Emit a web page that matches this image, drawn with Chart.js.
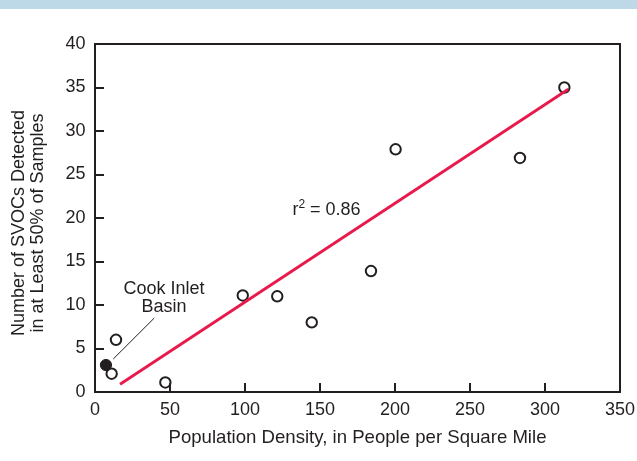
<!DOCTYPE html>
<html><head><meta charset="utf-8">
<script src="https://cdn.jsdelivr.net/npm/chart.js@4/dist/chart.umd.min.js"></script>
<style>html,body{margin:0;padding:0;background:#fff;}#wrap{position:relative;width:637px;height:461px;}</style>
</head><body><div id="wrap"><canvas id="c" width="637" height="461"></canvas></div>
<script>
// Data
const siteDensity = [11.1, 14.0, 46.9, 98.5, 121.5, 144.5, 184.0, 200.4, 283.3, 312.9];
const siteSvocs   = [2.1, 6.0, 1.1, 11.1, 11.0, 8.0, 13.9, 27.9, 26.9, 35.0];
const cookDensity = [7.3];
const cookSvocs   = [3.1];
const fitDensity  = [16.7, 315.5];
const fitSvocs    = [0.89, 34.8];
const xTickValues = [0, 50, 100, 150, 200, 250, 300, 350];
const yTickValues = [0, 5, 10, 15, 20, 25, 30, 35, 40];
const xTitle = 'Population Density, in People per Square Mile';
const yTitle = ['Number of SVOCs Detected  ', 'in at Least 50% of Samples  '];
const cookLabel = ['Cook Inlet', 'Basin'];
const r2Text = '0.86';

// annotation anchors (data units)
const cookLabelAt = {x: 46, y1: 11.3, y2: 9.2};
const leader = [{x: 12.2, y: 3.8}, {x: 39.5, y: 8.5}];
const r2At = {x: 131.6, y: 20.35};

const FONT = "'Liberation Sans', Arial, Helvetica, sans-serif";
const INK = '#231f20';
const RED = '#e8194b';

const toPts = (xs, ys) => xs.map((x, i) => ({x, y: ys[i]}));

const deco = {
  id: 'deco',
  beforeDraw(chart) {
    const ctx = chart.ctx;
    ctx.save();
    ctx.fillStyle = '#fff';
    ctx.fillRect(0, 0, chart.width, chart.height);
    ctx.fillStyle = '#bdd9e8';
    ctx.fillRect(0, 0, chart.width, 9);
    ctx.restore();
  },
  afterDraw(chart) {
    const ctx = chart.ctx, a = chart.chartArea;
    const xs = chart.scales.x, ys = chart.scales.y;
    ctx.save();
    ctx.strokeStyle = INK;
    ctx.lineWidth = 2;
    ctx.beginPath();
    ctx.moveTo(a.left - 1, a.top); ctx.lineTo(a.right, a.top); ctx.lineTo(a.right, a.bottom + 1);
    xTickValues.slice(1, -1).forEach(v => {
      const px = Math.round(xs.getPixelForValue(v));
      ctx.moveTo(px, a.bottom); ctx.lineTo(px, a.bottom - 9);
    });
    yTickValues.slice(1, -1).forEach(v => {
      const py = Math.round(ys.getPixelForValue(v));
      ctx.moveTo(a.left, py); ctx.lineTo(a.left + 9, py);
    });
    ctx.stroke();

    // leader line
    ctx.lineWidth = 1;
    ctx.beginPath();
    ctx.moveTo(xs.getPixelForValue(leader[0].x), ys.getPixelForValue(leader[0].y));
    ctx.lineTo(xs.getPixelForValue(leader[1].x), ys.getPixelForValue(leader[1].y));
    ctx.stroke();

    ctx.fillStyle = INK;
    ctx.font = '18px ' + FONT;
    ctx.textAlign = 'center';
    ctx.textBaseline = 'alphabetic';
    const cx = xs.getPixelForValue(cookLabelAt.x);
    ctx.fillText(cookLabel[0], cx, ys.getPixelForValue(cookLabelAt.y1));
    ctx.fillText(cookLabel[1], cx, ys.getPixelForValue(cookLabelAt.y2));

    // r^2 label
    ctx.textAlign = 'left';
    let rx = xs.getPixelForValue(r2At.x);
    const ry = ys.getPixelForValue(r2At.y);
    ctx.fillText('r', rx, ry);
    rx += ctx.measureText('r').width;
    ctx.font = '12px ' + FONT;
    ctx.fillText('2', rx, ry - 7);
    rx += ctx.measureText('2').width;
    ctx.font = '18px ' + FONT;
    ctx.fillText(' = ' + r2Text, rx, ry);
    ctx.restore();
  }
};

new Chart(document.getElementById('c'), {
  type: 'scatter',
  data: {
    datasets: [
      {label: 'fit', data: toPts(fitDensity, fitSvocs), showLine: true, pointRadius: 0,
       borderColor: RED, borderWidth: 2.8, fill: false},
      {label: 'Cook Inlet Basin', data: toPts(cookDensity, cookSvocs), pointRadius: 5.6,
       backgroundColor: INK, borderColor: INK, borderWidth: 1},
      {label: 'sites', data: toPts(siteDensity, siteSvocs), pointRadius: 5.2,
       backgroundColor: '#fff', borderColor: INK, borderWidth: 2}
    ]
  },
  options: {
    responsive: false,
    devicePixelRatio: 1,
    animation: false,
    layout: {padding: {top: 44, right: 17, left: 0, bottom: 0}},
    plugins: {legend: {display: false}, tooltip: {enabled: false}},
    scales: {
      x: {
        type: 'linear', min: 0, max: 350,
        afterBuildTicks: s => { s.ticks = xTickValues.map(v => ({value: v})); },
        afterFit: s => { s.height = 69; s.paddingLeft = 0; s.paddingRight = 0; },
        ticks: {font: {size: 18, family: FONT}, color: INK, padding: 7.5, maxRotation: 0},
        grid: {display: false, drawTicks: false},
        border: {display: true, color: INK, width: 2},
        title: {display: true, text: xTitle, color: INK,
                font: {size: 18.6, family: FONT, lineHeight: 1.05}, padding: {top: 0, bottom: 13.5}}
      },
      y: {
        type: 'linear', min: 0, max: 40,
        afterBuildTicks: s => { s.ticks = yTickValues.map(v => ({value: v})); },
        afterFit: s => { s.width = 95; s.paddingTop = 0; s.paddingBottom = 0; },
        ticks: {font: {size: 18, family: FONT}, color: INK, padding: 9.5},
        grid: {display: false, drawTicks: false},
        border: {display: true, color: INK, width: 2},
        title: {display: true, text: yTitle, color: INK,
                font: {size: 18, family: FONT, lineHeight: 1.05}, padding: {top: 9.5, bottom: 0}}
      }
    }
  },
  plugins: [deco]
});
</script></body></html>
